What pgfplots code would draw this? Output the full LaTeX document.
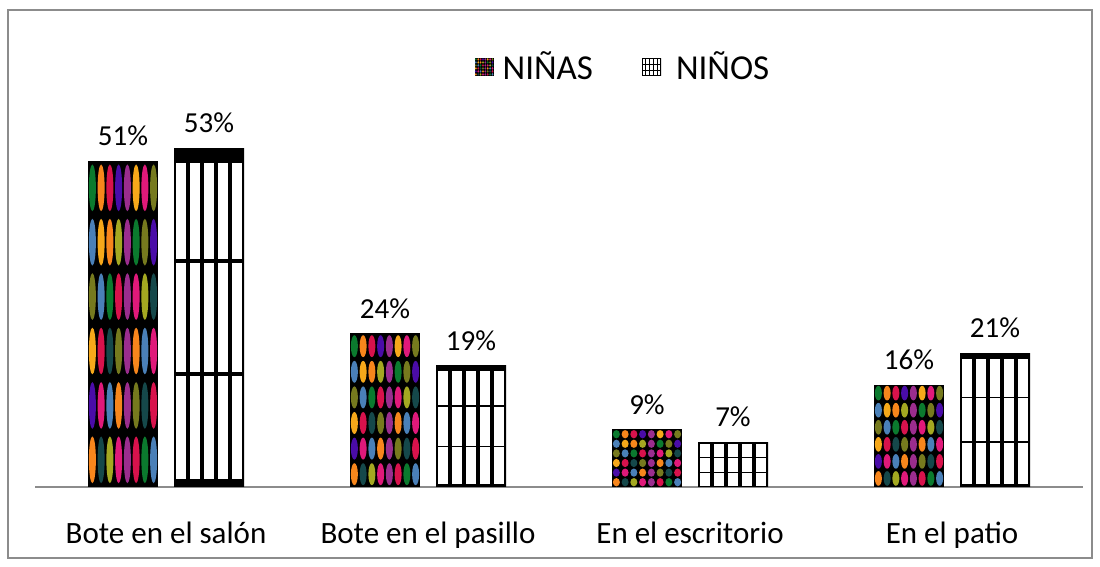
\documentclass[border=0pt]{standalone}
\usepackage{fontspec}
\setmainfont{Carlito}
\usepackage{pgfplots}
\pgfplotsset{compat=1.18}
\definecolor{dot0}{HTML}{F7861C}
\definecolor{dot1}{HTML}{E0197A}
\definecolor{dot2}{HTML}{0B7A2E}
\definecolor{dot3}{HTML}{F6A81A}
\definecolor{dot4}{HTML}{15484A}
\definecolor{dot5}{HTML}{9B2D8E}
\definecolor{dot6}{HTML}{4A80B8}
\definecolor{dot7}{HTML}{4A0CA8}
\definecolor{dot8}{HTML}{A4A821}
\definecolor{dot9}{HTML}{D8124C}
\definecolor{dot10}{HTML}{767A1E}
\definecolor{framegray}{HTML}{8C8C8C}
\newcommand\getbb{%
    \pgfpointanchor{path picture bounding box}{south west}\pgfgetlastxy\xa\ya
    \pgfpointanchor{path picture bounding box}{north east}\pgfgetlastxy\xb\yb}
\newcommand\ninaspic{\getbb\ninasdraw}
\newcommand\ninospic{\getbb\ninosdraw}
\newcommand\ninasdraw{%
    \pgfmathsetmacro\cw{(\xb-\xa)/8}%
    \pgfmathsetmacro\ch{(\yb-\ya)/6}%
    \pgfmathsetmacro\rx{0.40*\cw}%
    \pgfmathsetmacro\ry{0.43*\ch}%
    \color{black}%
    \pgfpathrectanglecorners{\pgfpoint{\xa}{\ya}}{\pgfpoint{\xb}{\yb}}\pgfusepath{fill}%
    \foreach \i in {0,...,7}{\foreach \j in {0,...,5}{%
      \pgfmathtruncatemacro\k{mod(\i*4+\j*7+\i*\j,11)}%
      \pgfmathsetmacro\cx{\xa+(\i+0.5)*\cw}%
      \pgfmathsetmacro\cy{\ya+(\j+0.5)*\ch}%
      \color{dot\k}%
      \pgfpathellipse{\pgfpoint{\cx pt}{\cy pt}}{\pgfpoint{\rx pt}{0pt}}{\pgfpoint{0pt}{\ry pt}}\pgfusepath{fill}%
    }}%
}
\newcommand\ninosdraw{%
    \pgfmathsetmacro\cw{(\xb-\xa)/5}%
    \pgfmathsetmacro\hh{\yb-\ya}%
    \pgfmathsetmacro\lw{0.055*(\xb-\xa)}%
    \pgfmathsetmacro\hw{0.012*\hh}%
    \color{white}%
    \pgfpathrectanglecorners{\pgfpoint{\xa}{\ya}}{\pgfpoint{\xb}{\yb}}\pgfusepath{fill}%
    \color{black}%
    \pgfsetlinewidth{\lw pt}%
    \foreach \i in {0,...,5}{%
      \pgfmathsetmacro\cx{\xa+\i*\cw}%
      \pgfpathmoveto{\pgfpoint{\cx pt}{\ya}}\pgfpathlineto{\pgfpoint{\cx pt}{\yb}}\pgfusepath{stroke}%
    }%
    \pgfsetlinewidth{\hw pt}%
    \foreach \j in {1,2}{%
      \pgfmathsetmacro\cy{\ya+\j*\hh/3}%
      \pgfpathmoveto{\pgfpoint{\xa}{\cy pt}}\pgfpathlineto{\pgfpoint{\xb}{\cy pt}}\pgfusepath{stroke}%
    }%
    \pgfmathsetmacro\tb{\yb-0.045*\hh}%
    \pgfmathsetmacro\bb{\ya+0.025*\hh}%
    \pgfpathrectanglecorners{\pgfpoint{\xa}{\tb pt}}{\pgfpoint{\xb}{\yb}}\pgfusepath{fill}%
    \pgfpathrectanglecorners{\pgfpoint{\xa}{\ya}}{\pgfpoint{\xb}{\bb pt}}\pgfusepath{fill}%
}
\tikzset{
  ninas/.style={fill=black, draw=none, path picture={\ninaspic}},
  ninos/.style={fill=white, draw=none, path picture={\ninospic}},
}
\pgfplotsset{
  ninasbar/.style={ninas, bar shift=-21.5pt,
    legend image code/.code={\fill[ninas] (0pt,-4.5pt) rectangle (9.5pt,4.5pt);
      \pgfpathmoveto{\pgfpoint{12pt}{0pt}}\pgfusepath{discard}}},
  ninosbar/.style={ninos, bar shift=21.5pt,
    legend image code/.code={\fill[ninos] (0pt,-4.5pt) rectangle (9.5pt,4.5pt);
      \pgfpathmoveto{\pgfpoint{15pt}{0pt}}\pgfusepath{discard}}},
}
\begin{document}
\begin{tikzpicture}
\path[use as bounding box] (0,0) rectangle (550pt,283.5pt);
\draw[framegray, line width=0.9pt] (4pt,4.5pt) rectangle (546pt,278.5pt);
\begin{axis}[
  at={(17.5pt,40pt)}, anchor=south west,
  scale only axis, width=524pt, height=192pt,
  ybar, bar width=35pt,
  xmin=-0.5, xmax=3.5, ymin=0, ymax=60,
  enlargelimits=false, clip=false,
  axis x line*=bottom, axis y line=none,
  x axis line style={draw=framegray, line width=1pt},
  xtick={0,1,2,3},
  xticklabels={Bote en el salón, Bote en el pasillo, En el escritorio, En el patio},
  major tick length=0pt,
  xticklabel style={font=\fontsize{15.5}{18}\selectfont, yshift=-14pt},
  every node near coord/.append style={font=\fontsize{14.5}{17}\selectfont, black, yshift=4pt},
  legend columns=2,
  legend style={draw=none, fill=none, at={(0.562,1.094)}, anchor=center,
    font=\fontsize{17.5}{21}\selectfont,
    /tikz/every even column/.append style={column sep=22.5pt}},
]
% NIÑAS
\addplot[ninasbar] coordinates {(0,51)};
% NIÑOS
\addplot[ninosbar] coordinates {(0,53)};
\legend{NIÑAS, NIÑOS}
\addplot[ninasbar, forget plot] coordinates {(1,24)};
\addplot[ninasbar, forget plot] coordinates {(2,9)};
\addplot[ninasbar, forget plot] coordinates {(3,16)};
\addplot[ninosbar, forget plot] coordinates {(1,19)};
\addplot[ninosbar, forget plot] coordinates {(2,7)};
\addplot[ninosbar, forget plot] coordinates {(3,21)};
% value labels
\addplot[draw=none, fill=none, bar shift=-21.5pt, forget plot,
  nodes near coords={\pgfmathprintnumber[assume math mode=true]{\pgfplotspointmeta}\%}]
  coordinates {(0,51) (1,24) (2,9) (3,16)};
\addplot[draw=none, fill=none, bar shift=21.5pt, forget plot,
  nodes near coords={\pgfmathprintnumber[assume math mode=true]{\pgfplotspointmeta}\%}]
  coordinates {(0,53) (1,19) (2,7) (3,21)};
\end{axis}
\end{tikzpicture}
\end{document}
